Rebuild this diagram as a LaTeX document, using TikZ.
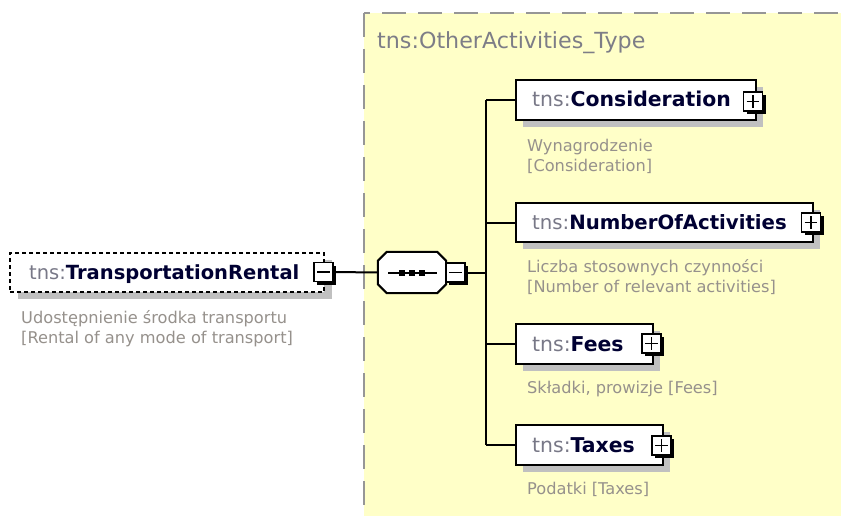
\documentclass[tikz,border=0pt]{standalone}
\usepackage{fontspec}
\setmainfont{DejaVu Sans}
\usetikzlibrary{shadows}
\definecolor{yel}{RGB}{255,255,200}
\definecolor{bordergray}{RGB}{150,150,150}
\definecolor{shadowgray}{RGB}{192,192,192}
\definecolor{tnsgray}{RGB}{120,120,135}
\definecolor{navy}{RGB}{0,0,50}
\definecolor{descgray}{RGB}{150,145,140}
\definecolor{titlegray}{RGB}{125,125,135}
\newcommand\tnspre{{\color{tnsgray}tns:}}
\newcommand\nm[1]{\tnspre{\color{navy}\bfseries #1}}
\tikzset{
  conn/.style={draw=black, line width=2pt},
  elem/.style={draw=black, fill=white, line width=2pt, inner sep=0pt,
    drop shadow={shadow xshift=7pt, shadow yshift=-7pt, fill=shadowgray, opacity=1}},
  pmbox/.style={draw=black, fill=white, line width=1.6pt, inner sep=0pt, minimum size=19pt,
    drop shadow={shadow xshift=3pt, shadow yshift=-3pt, fill=black, opacity=1}},
  sign/.style={draw=black, line width=1.8pt},
  nametxt/.style={anchor=base west, inner sep=0pt, font=\fontsize{#1}{24}\selectfont},
  nametxt/.default=20.4,
  desctxt/.style={anchor=base west, inner sep=0pt, text=descgray, font=\fontsize{16.2}{20}\selectfont},
}
\begin{document}
\begin{tikzpicture}[x=1pt,y=-1pt]
\useasboundingbox (0,0) rectangle (841,516);
\fill[white] (0,0) rectangle (841,516);
% complex type container
\fill[yel] (364,13) rectangle (841,516);
\draw[bordergray, line width=2.5pt, dash pattern=on 24pt off 12pt, dash phase=18pt] (364,13) -- (845,13);
\draw[bordergray, line width=2.5pt, dash pattern=on 24pt off 12pt] (364,13) -- (364,520);
\node[anchor=base west, inner sep=0pt, text=titlegray, font=\fontsize{22.2}{26}\selectfont] (title) at (377,49) {tns:OtherActivities\_Type};

% left element
\node[draw=black, fill=white, line width=2pt, dash pattern=on 4pt off 3pt, inner sep=0pt,
  minimum width=314pt, minimum height=39pt,
  drop shadow={shadow xshift=8pt, shadow yshift=-7pt, fill=shadowgray, opacity=1}] (tr) at (167,272.5) {};
\node[nametxt=19.5] (trname) at ([xshift=20pt, yshift=-7pt]tr.west) {\nm{TransportationRental}};
\node[pmbox] (trm) at (323.5,272) {};
\draw[sign] ([xshift=4pt]trm.west) -- ([xshift=-4pt]trm.east);
\node[desctxt] (trd1) at (21,323) {Udostępnienie środka transportu};
\node[desctxt] (trd2) at ([yshift=-20pt]trd1.base west) {[Rental of any mode of transport]};

% sequence compositor (octagon)
\node[inner sep=0pt, minimum width=68pt, minimum height=41pt] (seq) at (412,272.5) {};
\fill[shadowgray, xshift=8pt, yshift=-7pt]
  ([xshift=9pt]seq.north west) -- ([xshift=-9pt]seq.north east) -- ([yshift=-9pt]seq.north east)
  -- ([yshift=9pt]seq.south east) -- ([xshift=-9pt]seq.south east) -- ([xshift=9pt]seq.south west)
  -- ([yshift=9pt]seq.south west) -- ([yshift=-9pt]seq.north west) -- cycle;
\draw[fill=white, line width=2pt]
  ([xshift=9pt]seq.north west) -- ([xshift=-9pt]seq.north east) -- ([yshift=-9pt]seq.north east)
  -- ([yshift=9pt]seq.south east) -- ([xshift=-9pt]seq.south east) -- ([xshift=9pt]seq.south west)
  -- ([yshift=9pt]seq.south west) -- ([yshift=-9pt]seq.north west) -- cycle;
\draw[line width=2pt] ([xshift=-24pt]seq.center) -- ([xshift=25pt]seq.center);
\foreach \dx in {-10,0,10} {
  \fill[black] ([xshift=\dx pt-3pt, yshift=-3pt]seq.center) rectangle +(6pt,6pt);
}
\node[pmbox] (seqm) at (455.5,272.5) {};
\draw[sign] ([xshift=4pt]seqm.west) -- ([xshift=-4pt]seqm.east);
\draw[conn] (trm.east) -- (seq.west);
\coordinate (bus) at (486,272.5);
\draw[conn] (seqm.east) -- (bus);

% children
\node[elem, minimum width=240pt, minimum height=40pt] (cons) at (636,100) {};
\node[nametxt] (consname) at ([xshift=17pt, yshift=-7pt]cons.west) {\nm{Consideration}};
\node[pmbox] (consp) at (753,101.5) {};
\node[desctxt] (consd1) at (527,151.5) {Wynagrodzenie};
\node[desctxt] (consd2) at ([yshift=-20pt]consd1.base west) {[Consideration]};

\node[elem, minimum width=297pt, minimum height=39pt] (num) at (664.5,222.5) {};
\node[nametxt=19.7] (numname) at ([xshift=17pt, yshift=-7pt]num.west) {\nm{NumberOfActivities}};
\node[pmbox] (nump) at (811,222.5) {};
\node[desctxt] (numd1) at (527,272.5) {Liczba stosownych czynności};
\node[desctxt] (numd2) at ([yshift=-20pt]numd1.base west) {[Number of relevant activities]};

\node[elem, minimum width=137pt, minimum height=40pt] (fees) at (584.5,344) {};
\node[nametxt] (feesname) at ([xshift=17pt, yshift=-7pt]fees.west) {\nm{Fees}};
\node[pmbox] (feesp) at (651.5,343.5) {};
\node[desctxt] (feesd) at (527,393.5) {Składki, prowizje [Fees]};

\node[elem, minimum width=147pt, minimum height=40pt] (taxes) at (589.5,445) {};
\node[nametxt] (taxesname) at ([xshift=17pt, yshift=-7pt]taxes.west) {\nm{Taxes}};
\node[pmbox] (taxesp) at (661.5,445.5) {};
\node[desctxt] (taxesd) at (527,494.5) {Podatki [Taxes]};

\foreach \p in {consp,nump,feesp,taxesp} {
  \draw[sign] ([xshift=4pt]\p.west) -- ([xshift=-4pt]\p.east);
  \draw[sign] ([yshift=-4pt]\p.north) -- ([yshift=4pt]\p.south);
}

% bus connectors
\draw[conn] (cons.west -| bus) -- (taxes.west -| bus);
\draw[conn] (cons.west -| bus) -- (cons.west);
\draw[conn] (num.west -| bus) -- (num.west);
\draw[conn] (fees.west -| bus) -- (fees.west);
\draw[conn] (taxes.west -| bus) -- (taxes.west);
\end{tikzpicture}
\end{document}
